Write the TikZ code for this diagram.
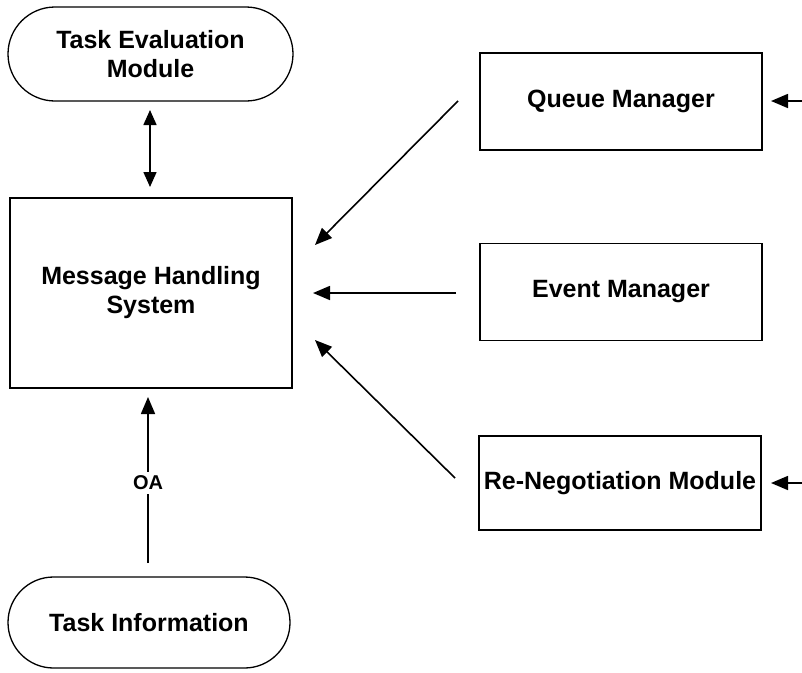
\documentclass[tikz,border=0pt]{standalone}
\usepackage{fontspec}
\setmainfont{Liberation Sans}
\usetikzlibrary{arrows.meta,shapes.misc}
\begin{document}
\begin{tikzpicture}[x=1pt,y=-1pt,
  lbl/.style={font=\fontsize{25}{29}\selectfont\bfseries, align=center},
  boxn/.style={draw, line width=1.5pt, rectangle, inner sep=0pt, lbl},
  stad/.style={draw, line width=1.3pt, rounded rectangle, inner sep=0pt, lbl},
  arr/.style={line width=1.6pt, -{Triangle[length=17pt,width=14pt]}},
  darr/.style={line width=1.6pt, {Triangle[length=15pt,width=13pt]}-{Triangle[length=15pt,width=13pt]}}
]
\useasboundingbox (0,0) rectangle (802,672);
\node[stad, minimum width=285pt, minimum height=94pt] (tem) at (150.5,54) {Task Evaluation\\Module};
\node[boxn, minimum width=282pt, minimum height=190pt] (mhs) at (151,293) {Message Handling\\System};
\node[stad, minimum width=282pt, minimum height=91pt] (ti) at (149,622.5) {Task Information};
\node[boxn, minimum width=282pt, minimum height=97pt] (qm) at (621,101.5) {Queue Manager};
\node[boxn, minimum width=282pt, minimum height=97pt] (em) at (621,292) {Event Manager};
\node[boxn, minimum width=282pt, minimum height=94pt] (rn) at (620,483) {Re-Negotiation Module};

\coordinate (temb) at (150,110);
\coordinate (mhst) at (150,187);
\draw[darr] (temb) -- (mhst);

\coordinate (qs) at (458,101);
\coordinate (qe) at (315,245);
\draw[arr] (qs) -- (qe);
\coordinate (es) at (456,293);
\coordinate (ee) at (313,293);
\draw[arr] (es) -- (ee);
\coordinate (rs) at (455,478);
\coordinate (re) at (315,340);
\draw[arr] (rs) -- (re);

\coordinate (qin) at (802,101);
\coordinate (qend) at (771,101);
\draw[arr] (qin) -- (qend);
\coordinate (rin) at (802,483);
\coordinate (rend) at (771,483);
\draw[arr] (rin) -- (rend);

\coordinate (tis) at (148,563);
\coordinate (mhse) at (148,397);
\node[font=\fontsize{20}{24}\selectfont\bfseries, fill=white, inner sep=4pt] (oa) at (148,483) {OA};
\draw[line width=1.6pt] (tis) -- (oa.south);
\draw[arr] (oa.north) -- (mhse);
\end{tikzpicture}
\end{document}
